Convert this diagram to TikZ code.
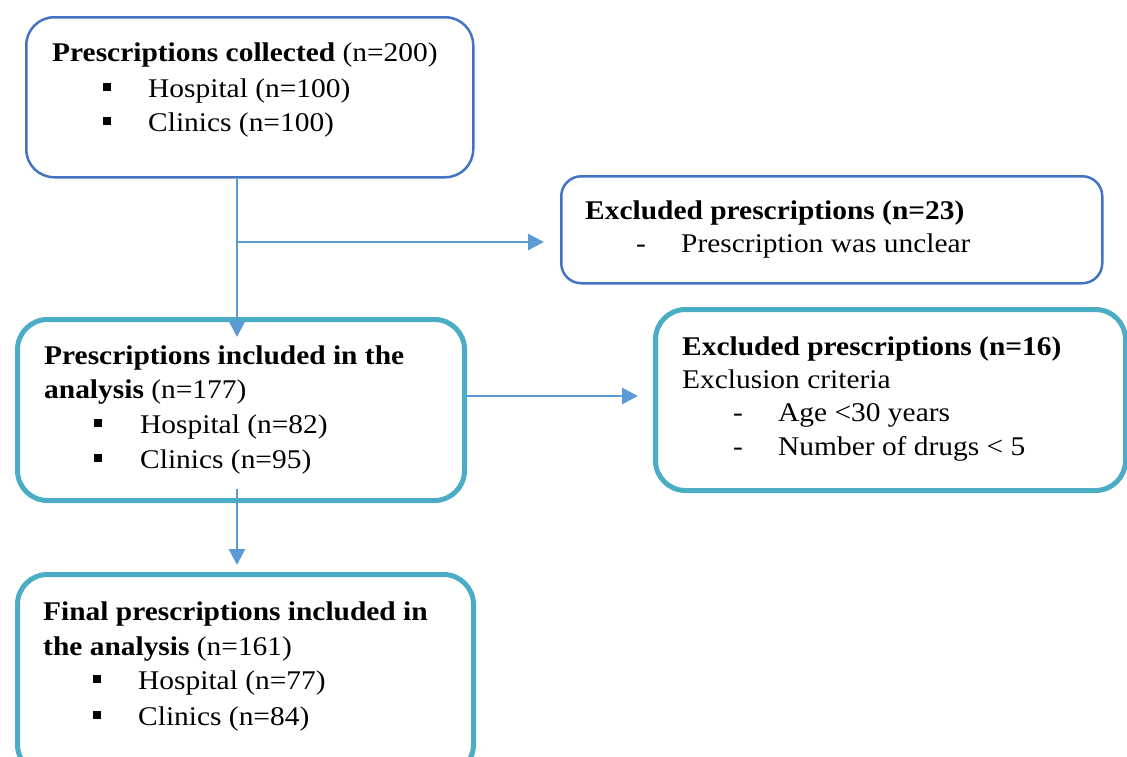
\documentclass[tikz,border=0pt]{standalone}
\usepackage{fontspec}
\setmainfont[FakeStretch=1.09]{Liberation Serif}
\usetikzlibrary{arrows.meta}
\definecolor{boxblue}{HTML}{4472C4}
\definecolor{boxteal}{HTML}{4BACC6}
\definecolor{arrblue}{HTML}{5B9BD5}
\newcommand{\sqb}{\rule[6.5pt]{7.5pt}{7.5pt}}
\tikzset{
  bluebox/.style={draw=boxblue, line width=2.5pt, rounded corners=28pt, rectangle, anchor=north west, inner sep=0pt},
  tealbox/.style={draw=boxteal, line width=5pt, rounded corners=30pt, rectangle, anchor=north west, inner sep=0pt},
  txt/.style={anchor=base west, inner sep=0pt, font=\fontsize{27}{32}\selectfont},
  conn/.style={draw=arrblue, line width=2.8pt, -{Triangle[length=16pt,width=16pt]}}
}
\begin{document}
\begin{tikzpicture}[x=1pt,y=-1pt]
\useasboundingbox (0,0) rectangle (1127,756);
\clip (0,0) rectangle (1127,756);
% boxes
\node[bluebox, minimum width=447pt, minimum height=160pt] (b1) at (25,16) {};
\node[bluebox, minimum width=541pt, minimum height=107pt, rounded corners=20pt] (b2) at (560,175) {};
\node[tealbox, minimum width=447pt, minimum height=181pt] (b3) at (15,317) {};
\node[tealbox, minimum width=470pt, minimum height=181pt] (b4) at (653,307) {};
\node[tealbox, minimum width=456pt, minimum height=200pt] (b5) at (15,572) {};
% box 1 text
\node[txt] (t1a) at (52,61) {\textbf{Prescriptions collected} (n=200)};
\node[txt] (t1b) at (103,97) {\sqb};
\node[txt] (t1c) at (148,97) {Hospital (n=100)};
\node[txt] (t1d) at (103,131) {\sqb};
\node[txt] (t1e) at (148,131) {Clinics (n=100)};
% box 2 text
\node[txt] (t2a) at (585,219) {\textbf{Excluded prescriptions (n=23)}};
\node[txt] (t2b) at (636,252) {-};
\node[txt] (t2c) at (681,252) {Prescription was unclear};
% box 3 text
\node[txt] (t3a) at (44,364) {\textbf{Prescriptions included in the}};
\node[txt] (t3b) at (44,398) {\textbf{analysis} (n=177)};
\node[txt] (t3c) at (94,433) {\sqb};
\node[txt] (t3d) at (140,433) {Hospital (n=82)};
\node[txt] (t3e) at (94,468) {\sqb};
\node[txt] (t3f) at (140,468) {Clinics (n=95)};
% box 4 text
\node[txt] (t4a) at (682,355) {\textbf{Excluded prescriptions (n=16)}};
\node[txt] (t4b) at (682,388) {Exclusion criteria};
\node[txt] (t4c) at (733,421) {-};
\node[txt] (t4d) at (778,421) {Age <30 years};
\node[txt] (t4e) at (733,455) {-};
\node[txt] (t4f) at (778,455) {Number of drugs < 5};
% box 5 text
\node[txt] (t5a) at (43,620) {\textbf{Final prescriptions included in}};
\node[txt] (t5b) at (43,655) {\textbf{the analysis} (n=161)};
\node[txt] (t5c) at (93,689) {\sqb};
\node[txt] (t5d) at (138,689) {Hospital (n=77)};
\node[txt] (t5e) at (93,725) {\sqb};
\node[txt] (t5f) at (138,725) {Clinics (n=84)};
% connectors
\coordinate (j1) at (237,242);
\coordinate (a1end) at (237,337);
\coordinate (a2end) at (544,242);
\coordinate (a3start) at (462,396);
\coordinate (a3end) at (638,396);
\coordinate (a4start) at (237,489);
\coordinate (a4end) at (237,565);
\draw[conn] (b1.south -| j1) -- (a1end);
\draw[conn] (j1) -- (a2end);
\draw[conn] (b3.east |- a3start) -- (a3end);
\draw[conn] (a4start) -- (a4end);
\end{tikzpicture}
\end{document}
